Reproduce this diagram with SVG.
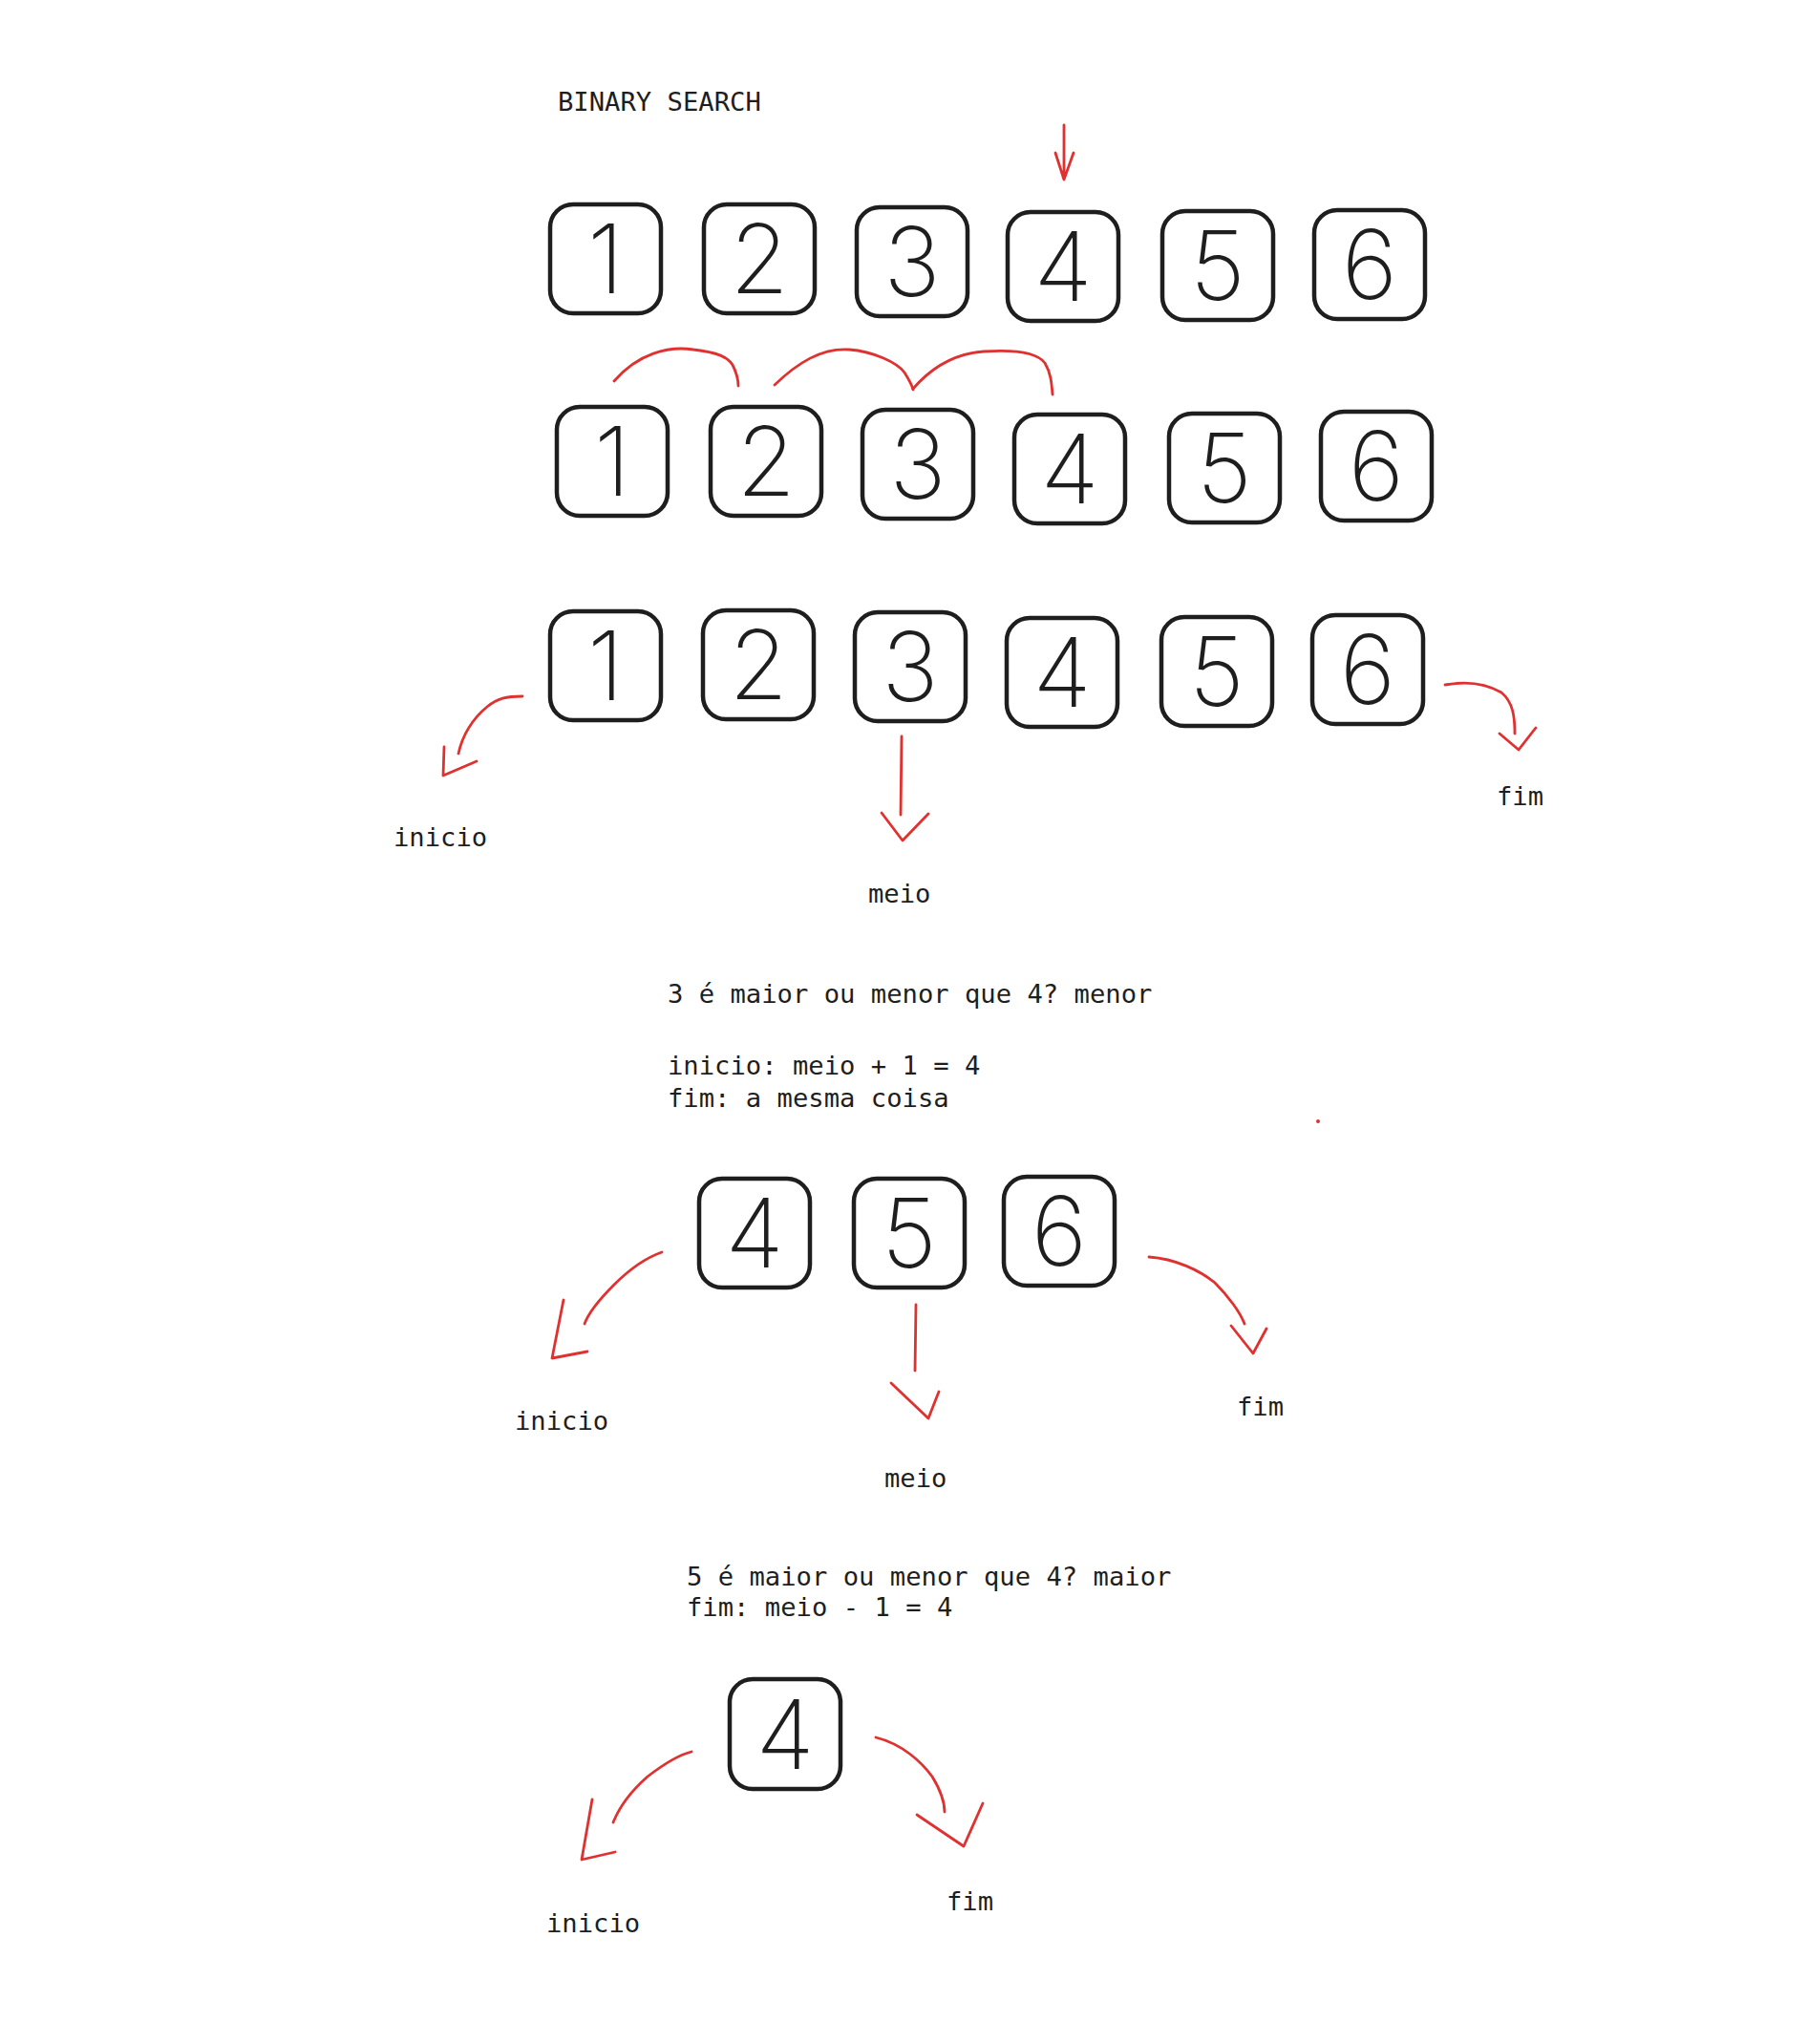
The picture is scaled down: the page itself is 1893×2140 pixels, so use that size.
<svg xmlns="http://www.w3.org/2000/svg" width="1893" height="2140" viewBox="0 0 1893 2140">
<style>
.bg{fill:#ffffff}
.box rect{fill:none;stroke:#1e1e1e;stroke-width:4.5}
.box text{font-family:Inter,"Noto Sans","DejaVu Sans",sans-serif;font-weight:200;font-size:100px;fill:#1e1e1e;text-anchor:middle}
.lbl{font-family:"DejaVu Sans Mono","Liberation Mono",monospace;font-size:27.2px;fill:#1e1e1e}
.red path{fill:none;stroke:#e03131;stroke-width:2.8;stroke-linecap:round;stroke-linejoin:round}
</style>
<rect class="bg" x="0" y="0" width="1893" height="2140"/>
<g id="title"><text class="lbl" x="584" y="116">BINARY SEARCH</text></g>

<g id="r1-1" class="box"><rect x="576" y="214" width="116" height="114" rx="24"/><text x="634" y="307">1</text></g>
<g id="r1-2" class="box"><rect x="737" y="214" width="116" height="114" rx="24"/><text x="795" y="307">2</text></g>
<g id="r1-3" class="box"><rect x="897" y="217" width="116" height="114" rx="24"/><text x="955" y="310">3</text></g>
<g id="r1-4" class="box"><rect x="1055" y="222" width="116" height="114" rx="24"/><text x="1113" y="315">4</text></g>
<g id="r1-5" class="box"><rect x="1217" y="221" width="116" height="114" rx="24"/><text x="1275" y="314">5</text></g>
<g id="r1-6" class="box"><rect x="1376" y="220" width="116" height="114" rx="24"/><text x="1434" y="313">6</text></g>

<g id="r2-1" class="box"><rect x="583" y="426" width="116" height="114" rx="24"/><text x="641" y="519">1</text></g>
<g id="r2-2" class="box"><rect x="744" y="426" width="116" height="114" rx="24"/><text x="802" y="519">2</text></g>
<g id="r2-3" class="box"><rect x="903" y="429" width="116" height="114" rx="24"/><text x="961" y="522">3</text></g>
<g id="r2-4" class="box"><rect x="1062" y="434" width="116" height="114" rx="24"/><text x="1120" y="527">4</text></g>
<g id="r2-5" class="box"><rect x="1224" y="433" width="116" height="114" rx="24"/><text x="1282" y="526">5</text></g>
<g id="r2-6" class="box"><rect x="1383" y="431" width="116" height="114" rx="24"/><text x="1441" y="524">6</text></g>

<g id="r3-1" class="box"><rect x="576" y="640" width="116" height="114" rx="24"/><text x="634" y="733">1</text></g>
<g id="r3-2" class="box"><rect x="736" y="639" width="116" height="114" rx="24"/><text x="794" y="732">2</text></g>
<g id="r3-3" class="box"><rect x="895" y="641" width="116" height="114" rx="24"/><text x="953" y="734">3</text></g>
<g id="r3-4" class="box"><rect x="1054" y="647" width="116" height="114" rx="24"/><text x="1112" y="740">4</text></g>
<g id="r3-5" class="box"><rect x="1216" y="646" width="116" height="114" rx="24"/><text x="1274" y="739">5</text></g>
<g id="r3-6" class="box"><rect x="1374" y="644" width="116" height="114" rx="24"/><text x="1432" y="737">6</text></g>

<g id="r4-4" class="box"><rect x="732" y="1234" width="116" height="114" rx="24"/><text x="790" y="1327">4</text></g>
<g id="r4-5" class="box"><rect x="894" y="1234" width="116" height="114" rx="24"/><text x="952" y="1327">5</text></g>
<g id="r4-6" class="box"><rect x="1051" y="1232" width="116" height="114" rx="24"/><text x="1109" y="1325">6</text></g>

<g id="r5-4" class="box"><rect x="764" y="1758" width="116" height="115" rx="24"/><text x="822" y="1852">4</text></g>

<g id="labels">
<text class="lbl" x="412" y="886">inicio</text>
<text class="lbl" x="909" y="945">meio</text>
<text class="lbl" x="1567" y="843">fim</text>
<text class="lbl" x="699" y="1050">3 é maior ou menor que 4? menor</text>
<text class="lbl" x="699" y="1125">inicio: meio + 1 = 4</text>
<text class="lbl" x="699" y="1159">fim: a mesma coisa</text>
<text class="lbl" x="539" y="1497">inicio</text>
<text class="lbl" x="926" y="1557">meio</text>
<text class="lbl" x="1295" y="1482">fim</text>
<text class="lbl" x="719" y="1660">5 é maior ou menor que 4? maior</text>
<text class="lbl" x="719" y="1692">fim: meio - 1 = 4</text>
<text class="lbl" x="572" y="2023">inicio</text>
<text class="lbl" x="991" y="2000">fim</text>
</g>

<g id="connectors" class="red">
<path d="M1114 131 L1114 188 M1105 160 L1114 188 L1124 160"/>
<path d="M643 399 C668 370 700 362 726 366 C752 369 762 374 767 382 C771 390 773 397 773 404"/>
<path d="M811 403 C835 380 860 364 889 366 C915 368 940 380 947 390 C952 398 955 403 956 408"/>
<path d="M956 407 C975 385 1000 370 1030 368 C1060 366 1085 368 1094 380 C1100 390 1101 400 1102 413"/>
<path d="M547 729 C530 729 521 731 510 740 C495 752 484 770 480 789 M465 782 L464 812 L499 797"/>
<path d="M944 771 L943 853 M923 851 L945 880 L972 852"/>
<path d="M1513 717 C1540 712 1560 718 1572 725 C1584 735 1586 750 1586 768 M1570 768 L1590 785 L1608 762"/>
<path d="M693 1311 C673 1318 658 1330 643 1345 C626 1362 616 1375 612 1386 M590 1361 L578 1422 L615 1415"/>
<path d="M959 1366 L958 1435 M933 1448 L972 1485 L983 1457"/>
<path d="M1203 1316 C1231 1318 1256 1330 1272 1343 C1287 1358 1299 1375 1303 1386 M1289 1388 L1312 1417 L1326 1391"/>
<path d="M724 1834 C708 1838 691 1850 678 1860 C661 1875 648 1893 642 1908 M620 1884 L609 1947 L644 1939"/>
<path d="M917 1819 C945 1826 965 1845 976 1860 C987 1878 989 1890 989 1897 M960 1900 L1009 1933 L1029 1888"/>
</g>
<circle cx="1380" cy="1174" r="2" fill="#e03131"/>
</svg>
